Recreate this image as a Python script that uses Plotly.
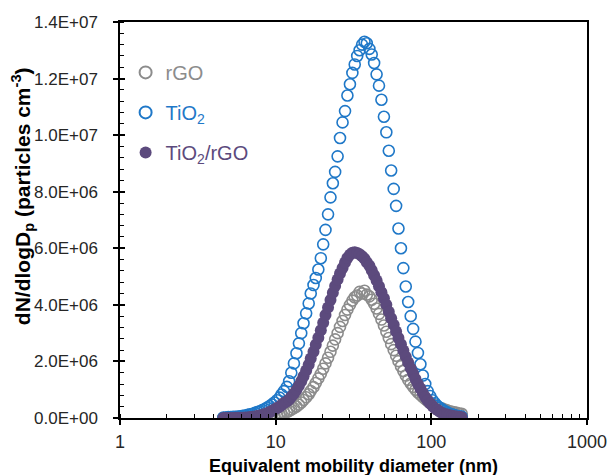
import plotly.graph_objects as go

# Equivalent mobility diameter channels (nm), 64 channels per decade
diameter_nm = [4.61, 4.78, 4.96, 5.14, 5.33, 5.52, 5.73, 5.94, 6.15, 6.38,
               6.61, 6.85, 7.10, 7.37, 7.64, 7.91, 8.20, 8.51, 8.82, 9.14,
               9.47, 9.82, 10.2, 10.6, 10.9, 11.3, 11.8, 12.2, 12.6, 13.1,
               13.6, 14.1, 14.6, 15.1, 15.7, 16.3, 16.8, 17.5, 18.1, 18.8,
               19.5, 20.2, 20.9, 21.7, 22.5, 23.3, 24.1, 25.0, 25.9, 26.9,
               27.9, 28.9, 30.0, 31.1, 32.2, 33.4, 34.6, 35.9, 37.2, 38.5,
               40.0, 41.4, 42.9, 44.5, 46.1, 47.8, 49.6, 51.4, 53.3, 55.2,
               57.3, 59.4, 61.5, 63.8, 66.1, 68.5, 71.0, 73.7, 76.4, 79.1,
               82.0, 85.1, 88.2, 91.4, 94.7, 98.2, 101.8, 105.5, 109.4, 113.4,
               117.6, 121.9, 126.3, 131.0, 135.8, 140.7, 145.9, 151.2, 156.8]

# dN/dlogDp in units of 1E+06 particles cm^-3
rgo_e6 = [0.001, 0.001, 0.002, 0.002, 0.003, 0.003, 0.004, 0.005, 0.006, 0.008,
          0.010, 0.013, 0.016, 0.019, 0.022, 0.028, 0.034, 0.041, 0.050, 0.061,
          0.073, 0.088, 0.105, 0.126, 0.150, 0.180, 0.213, 0.252, 0.296, 0.348,
          0.406, 0.473, 0.548, 0.635, 0.731, 0.840, 0.957, 1.09, 1.24, 1.40,
          1.56, 1.74, 1.93, 2.13, 2.34, 2.56, 2.78, 3.00, 3.22, 3.43,
          3.64, 3.83, 4.00, 4.15, 4.27, 4.33, 4.46, 4.40, 4.50, 4.36,
          4.30, 4.18, 4.04, 3.87, 3.68, 3.48, 3.27, 3.05, 2.83, 2.61,
          2.40, 2.20, 2.01, 1.83, 1.66, 1.50, 1.35, 1.22, 1.10, 1.00,
          0.90, 0.82, 0.74, 0.67, 0.60, 0.54, 0.49, 0.44, 0.40, 0.36,
          0.33, 0.30, 0.27, 0.24, 0.22, 0.20, 0.18, 0.16, 0.15]

tio2_e6 = [0.02, 0.02, 0.03, 0.03, 0.04, 0.04, 0.05, 0.06, 0.08, 0.09,
           0.11, 0.13, 0.15, 0.18, 0.21, 0.24, 0.28, 0.32, 0.37, 0.42,
           0.48, 0.55, 0.63, 0.72, 0.83, 0.95, 1.10, 1.30, 1.60, 1.93,
           2.29, 2.64, 3.00, 3.35, 3.70, 4.05, 4.40, 4.70, 4.95, 5.25,
           5.65, 6.14, 6.65, 7.20, 7.80, 8.30, 8.70, 9.25, 9.90, 10.45,
           10.85, 11.40, 11.80, 12.20, 12.50, 12.80, 13.00, 13.20, 13.30, 13.25,
           13.05, 12.85, 12.55, 12.15, 11.75, 11.25, 10.65, 10.10, 9.45, 8.75,
           8.10, 7.50, 6.70, 6.00, 5.30, 4.65, 4.10, 3.60, 3.15, 2.70,
           2.30, 1.90, 1.50, 1.20, 0.95, 0.78, 0.63, 0.52, 0.43, 0.36,
           0.30, 0.25, 0.20, 0.16, 0.13, 0.10, 0.08, 0.06, 0.05]

tio2_rgo_e6 = [0.001, 0.001, 0.002, 0.003, 0.004, 0.005, 0.006, 0.008, 0.011, 0.015,
               0.022, 0.033, 0.043, 0.055, 0.070, 0.090, 0.113, 0.140, 0.172, 0.21,
               0.25, 0.30, 0.35, 0.40, 0.46, 0.53, 0.58, 0.65, 0.75, 0.86,
               0.99, 1.14, 1.30, 1.48, 1.68, 1.88, 2.10, 2.34, 2.59, 2.84,
               3.10, 3.37, 3.64, 3.91, 4.17, 4.43, 4.67, 4.90, 5.11, 5.30,
               5.50, 5.66, 5.77, 5.84, 5.86, 5.83, 5.79, 5.72, 5.63, 5.51,
               5.38, 5.22, 5.05, 4.86, 4.66, 4.45, 4.23, 4.00, 3.76, 3.53,
               3.30, 3.06, 2.83, 2.61, 2.39, 2.17, 1.96, 1.76, 1.57, 1.38,
               1.20, 1.04, 0.88, 0.74, 0.62, 0.51, 0.42, 0.34, 0.28, 0.22,
               0.18, 0.14, 0.12, 0.10, 0.08, 0.06, 0.05, 0.04, 0.03]

series_names = ["rGO", "TiO<sub>2</sub>", "TiO<sub>2</sub>/rGO"]

x_tick_vals = [1, 10, 100, 1000]
x_tick_text = ["1", "10", "100", "1000"]
y_tick_vals = [0, 2e6, 4e6, 6e6, 8e6, 1e7, 1.2e7, 1.4e7]
y_tick_text = ["0.0E+00", "2.0E+06", "4.0E+06", "6.0E+06", "8.0E+06",
               "1.0E+07", "1.2E+07", "1.4E+07"]

GREY = "#8c8c8c"
BLUE = "#1f78c8"
PURPLE = "#5c4a7d"
FONT = "Liberation Sans, Arial, sans-serif"

fig = go.Figure()
fig.add_trace(go.Scatter(
    x=diameter_nm, y=[v * 1e6 for v in rgo_e6], mode="markers",
    name=f'<span style="color:{GREY}">{series_names[0]}</span>', legendgroup="g1",
    marker=dict(symbol="circle-open", size=11, color=GREY, line=dict(width=1.6))))
fig.add_trace(go.Scatter(
    x=diameter_nm, y=[v * 1e6 for v in tio2_e6], mode="markers",
    name=f'<span style="color:{BLUE}">{series_names[1]}</span>', legendgroup="g2",
    marker=dict(symbol="circle-open", size=11, color=BLUE, line=dict(width=1.6))))
fig.add_trace(go.Scatter(
    x=diameter_nm, y=[v * 1e6 for v in tio2_rgo_e6], mode="markers",
    name=f'<span style="color:{PURPLE}">{series_names[2]}</span>', legendgroup="g3",
    marker=dict(symbol="circle", size=12, color=PURPLE, line=dict(width=0))))
# empty trace carrying the overlay axes (inner half of the crossing major ticks)
fig.add_trace(go.Scatter(x=[], y=[], xaxis="x2", yaxis="y2", showlegend=False,
                         hoverinfo="skip"))

fig.update_layout(
    width=610, height=475,
    margin=dict(l=120, r=23, t=22, b=57),
    paper_bgcolor="white", plot_bgcolor="white",
    font=dict(family=FONT, size=16, color="#262626"),
    showlegend=True,
    legend=dict(x=0.012, y=0.922, xanchor="left", yanchor="top",
                bgcolor="rgba(0,0,0,0)", font=dict(size=20, family=FONT),
                tracegroupgap=11, itemsizing="constant"),
    xaxis=dict(type="log", range=[0, 3], showline=True, linecolor="black",
               linewidth=1.5, mirror=True, ticks="outside", ticklen=5,
               tickwidth=1.5, tickcolor="black", tickmode="array",
               tickvals=x_tick_vals, ticktext=x_tick_text,
               tickfont=dict(size=18, color="#262626"), ticklabelstandoff=2,
               minor=dict(ticks="inside", ticklen=4, tickwidth=1.2,
                          tickcolor="black", dtick="D1", showgrid=False),
               automargin=False, showgrid=False, zeroline=False),
    yaxis=dict(range=[0, 1.4e7], showline=True, linecolor="black",
               linewidth=1.5, mirror=True, ticks="outside", ticklen=5,
               tickwidth=1.5, tickcolor="black", tickmode="array",
               tickvals=y_tick_vals, ticktext=y_tick_text,
               tickfont=dict(size=17, color="#262626"), ticklabelstandoff=12,
               minor=dict(ticks="inside", ticklen=4, tickwidth=1.2,
                          tickcolor="black", dtick=4e5, showgrid=False),
               automargin=False, showgrid=False, zeroline=False),
    xaxis2=dict(type="log", range=[0, 3], overlaying="x", anchor="y2",
                side="bottom", showline=False, ticks="inside", ticklen=5,
                tickwidth=1.5, tickcolor="black", tickmode="array",
                tickvals=x_tick_vals, showticklabels=False, automargin=False,
                showgrid=False, zeroline=False),
    yaxis2=dict(range=[0, 1.4e7], overlaying="y", anchor="x2", side="left",
                showline=False, ticks="inside", ticklen=5, tickwidth=1.5,
                tickcolor="black", tickmode="array", tickvals=y_tick_vals,
                showticklabels=False, automargin=False,
                showgrid=False, zeroline=False),
    annotations=[
        dict(text="<b>dN/dlogD<sub>p</sub> (particles cm<sup>-3</sup>)</b>",
             xref="paper", yref="paper", x=-0.21, y=0.56, textangle=-90,
             showarrow=False, xanchor="center", yanchor="middle",
             font=dict(size=21, color="black", family=FONT)),
        dict(text="<b>Equivalent mobility diameter (nm)</b>",
             xref="paper", yref="paper", x=0.5, y=-0.121,
             showarrow=False, xanchor="center", yanchor="middle",
             font=dict(size=18, color="black", family=FONT)),
    ],
)

fig.write_html("out.html")
